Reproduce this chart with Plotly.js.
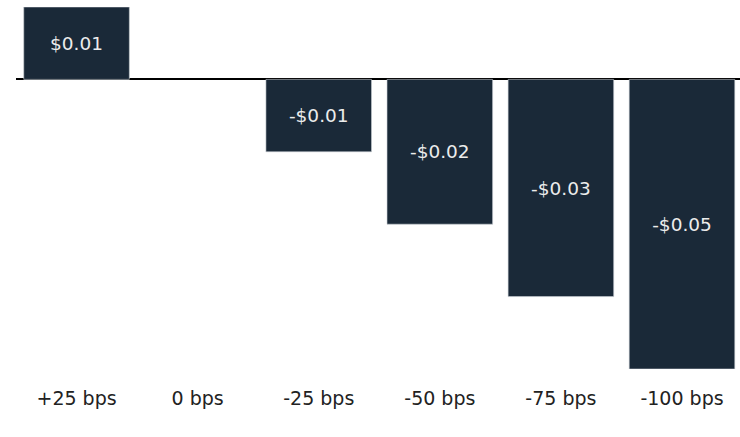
<!DOCTYPE html>
<html>
<head>
<meta charset="utf-8">
<script src="https://cdn.plot.ly/plotly-3.0.1.min.js"></script>
<style>html,body{margin:0;padding:0;background:#fff;}#chart{width:740px;height:437px;}</style>
</head>
<body>
<div id="chart"></div>
<script>
const categories = ["+25 bps", "0 bps", "-25 bps", "-50 bps", "-75 bps", "-100 bps"];
const values = [0.0125, 0, -0.0125, -0.025, -0.0375, -0.05];
const valueLabels = ["$0.01", "", "-$0.01", "-$0.02", "-$0.03", "-$0.05"];

const trace = {
  type: "bar",
  x: categories,
  y: values,
  text: valueLabels,
  textposition: "inside",
  insidetextanchor: "middle",
  textangle: 0,
  insidetextfont: {family: "DejaVu Sans, sans-serif", size: 18.5, color: "#ececec"},
  marker: {
    color: "#1a2938",
    line: {color: values.map(v => v === 0 ? "rgba(0,0,0,0)" : "#c9ced3"), width: 0.6}
  },
  hoverinfo: "skip",
  cliponaxis: false
};

const layout = {
  width: 740,
  height: 437,
  margin: {l: 16, r: 0, t: 7, b: 68},
  paper_bgcolor: "#ffffff",
  plot_bgcolor: "#ffffff",
  bargap: 0.128,
  showlegend: false,
  xaxis: {
    type: "category",
    range: [-0.5, 5.479],
    showgrid: false,
    showline: false,
    ticks: "",
    tickfont: {family: "DejaVu Sans, sans-serif", size: 19, color: "#222222"},
    ticklabelstandoff: 16
  },
  yaxis: {
    range: [-0.05, 0.0125],
    showgrid: false,
    showticklabels: false,
    ticks: "",
    zeroline: true,
    zerolinecolor: "#000000",
    zerolinewidth: 2,
    fixedrange: true
  },
  uniformtext: {mode: false}
};

Plotly.newPlot("chart", [trace], layout, {displayModeBar: false, staticPlot: true});
</script>
</body>
</html>
